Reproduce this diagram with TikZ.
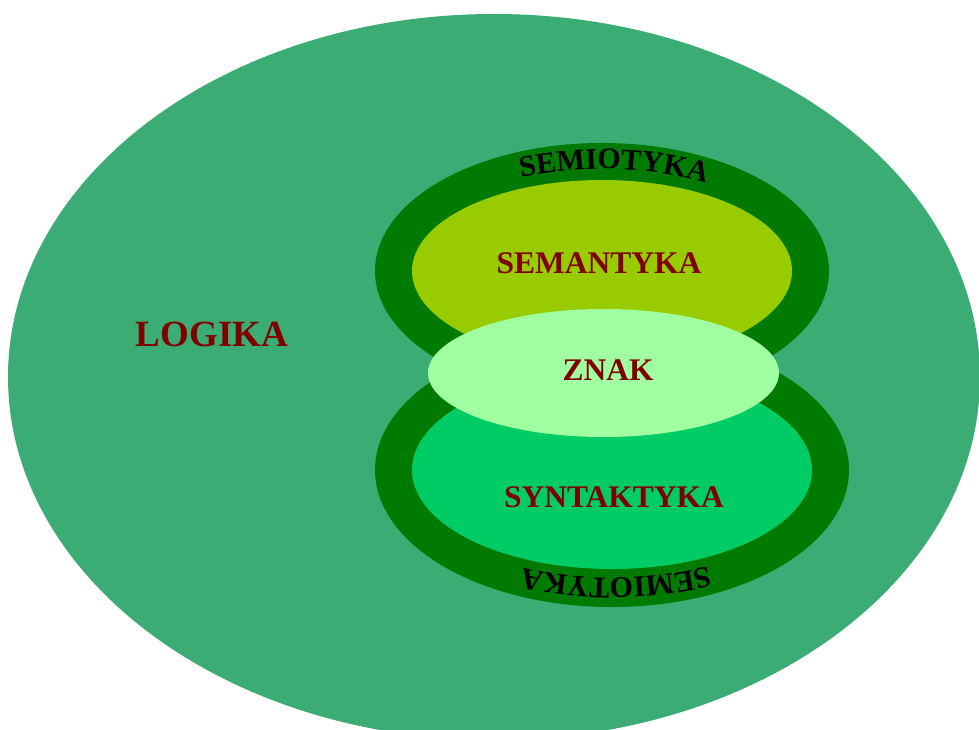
\documentclass[tikz,border=0pt]{standalone}
\usepackage{fontspec}
\setmainfont{Liberation Serif}
\usetikzlibrary{shapes.geometric,decorations.text}

\definecolor{logikagreen}{HTML}{3BAD74}
\definecolor{ringgreen}{HTML}{007A00}
\definecolor{semgreen}{HTML}{99CC00}
\definecolor{syngreen}{HTML}{00CC66}
\definecolor{znakgreen}{HTML}{A0FFA0}
\definecolor{labelred}{HTML}{800000}
\newcommand{\semiofont}{\fontsize{30}{31}\selectfont\bfseries}

\begin{document}
\begin{tikzpicture}[
    x=1pt, y=1pt,
    blob/.style={ellipse, inner sep=0pt, outer sep=0pt, draw=none},
    title/.style={font=\fontsize{31.5}{34}\selectfont\bfseries, text=labelred},
    ringtext/.style={decorate, decoration={text along path, text align=center,
      text={|\semiofont|SEMIOTYKA}}}
  ]
  \clip (0,0) rectangle (979,729);

  \node[blob, fill=logikagreen, minimum width=972pt, minimum height=726pt] (logika) at (494,352) {};

  \node[blob, fill=ringgreen, minimum width=474pt, minimum height=274pt] (ringlow) at (612,259) {};
  \node[blob, fill=ringgreen, minimum width=454pt, minimum height=256pt] (ringup) at (602,458) {};
  \node[blob, fill=semgreen, minimum width=380pt, minimum height=182pt] (semantyka) at (602,458) {};
  \node[blob, fill=syngreen, minimum width=400pt, minimum height=198pt] (syntaktyka) at (612,259) {};
  \node[blob, fill=znakgreen, minimum width=351pt, minimum height=128pt] (znak) at (603.5,356) {};

  % labels
  \node[title, font=\fontsize{37}{40}\selectfont\bfseries] (logikatxt) at (212,395) {LOGIKA};
  \node[title] (semtxt) at (599,466) {SEMANTYKA};
  \node[title] (znaktxt) at (608,359) {ZNAK};
  \node[title] (syntxt) at (614,232) {SYNTAKTYKA};

  % curved ring text
  \path[ringtext] (ringup.center) ++(158:205 and 102)
    arc[start angle=158, end angle=10, x radius=205, y radius=102];
  \path[ringtext] (ringlow.center) ++(-16:215 and 108)
    arc[start angle=-16, end angle=-160, x radius=215, y radius=108];
\end{tikzpicture}
\end{document}
